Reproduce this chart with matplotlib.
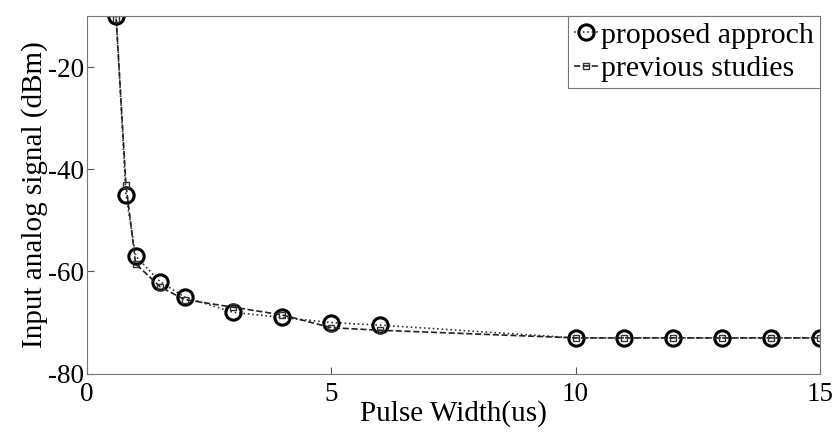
import matplotlib
matplotlib.use('Agg')
import matplotlib.pyplot as plt

# --- donnees ---
pulse_width = [0.6, 0.8, 1, 1.5, 2, 3, 4, 5, 6, 10, 11, 12, 13, 14, 15]
proposed = [-10, -45, -57, -62, -65, -68, -69, -70, -70.5, -73, -73, -73, -73, -73, -73]
previous = [-10.5, -43, -58.5, -63, -65.5, -67, -68.5, -71, -71.5, -73, -73, -73, -73, -73, -73]

x_ticks = [0, 5, 10, 15]
y_ticks = [-80, -60, -40, -20]

plt.rcParams['font.family'] = ['Liberation Serif', 'DejaVu Serif']
plt.rcParams['axes.unicode_minus'] = False  # le graphique d'origine utilise un tiret simple

fig = plt.figure(figsize=(8.35, 4.34), dpi=100)
ax = fig.add_axes([0.104, 0.139, 0.878, 0.824])

ax.plot(pulse_width, proposed, linestyle=':', color='#333333', linewidth=1.2,
        marker='o', markersize=11, markerfacecolor='none',
        markeredgecolor='black', markeredgewidth=2.2, label='proposed approch')
ax.plot(pulse_width, previous, linestyle='--', color='#222222', linewidth=1.2,
        marker='s', markersize=5, markerfacecolor='none',
        markeredgecolor='#333333', markeredgewidth=1, label='previous studies')

ax.set_xlim(0, 15)
ax.set_ylim(-80, -10)
ax.set_xticks(x_ticks)
ax.set_yticks(y_ticks)
ax.tick_params(direction='in', labelsize=19.5, length=5, color='#555555')
ax.tick_params(axis='y', pad=2)
ax.tick_params(axis='x', pad=6)
for s in ax.spines.values():
    s.set_color('#777777')

ax.set_xlabel('Pulse Width(us)', fontsize=21, labelpad=-5)
ax.set_ylabel('Input analog signal (dBm)', fontsize=21, labelpad=0)

leg = ax.legend(loc='upper right', fontsize=21.5, fancybox=False, framealpha=1,
                edgecolor='#777777', handlelength=0.8, handletextpad=0.1,
                borderpad=0.2, labelspacing=0.22, borderaxespad=0)
leg.get_frame().set_linewidth(0.8)

fig.savefig('out.png', dpi=100)
